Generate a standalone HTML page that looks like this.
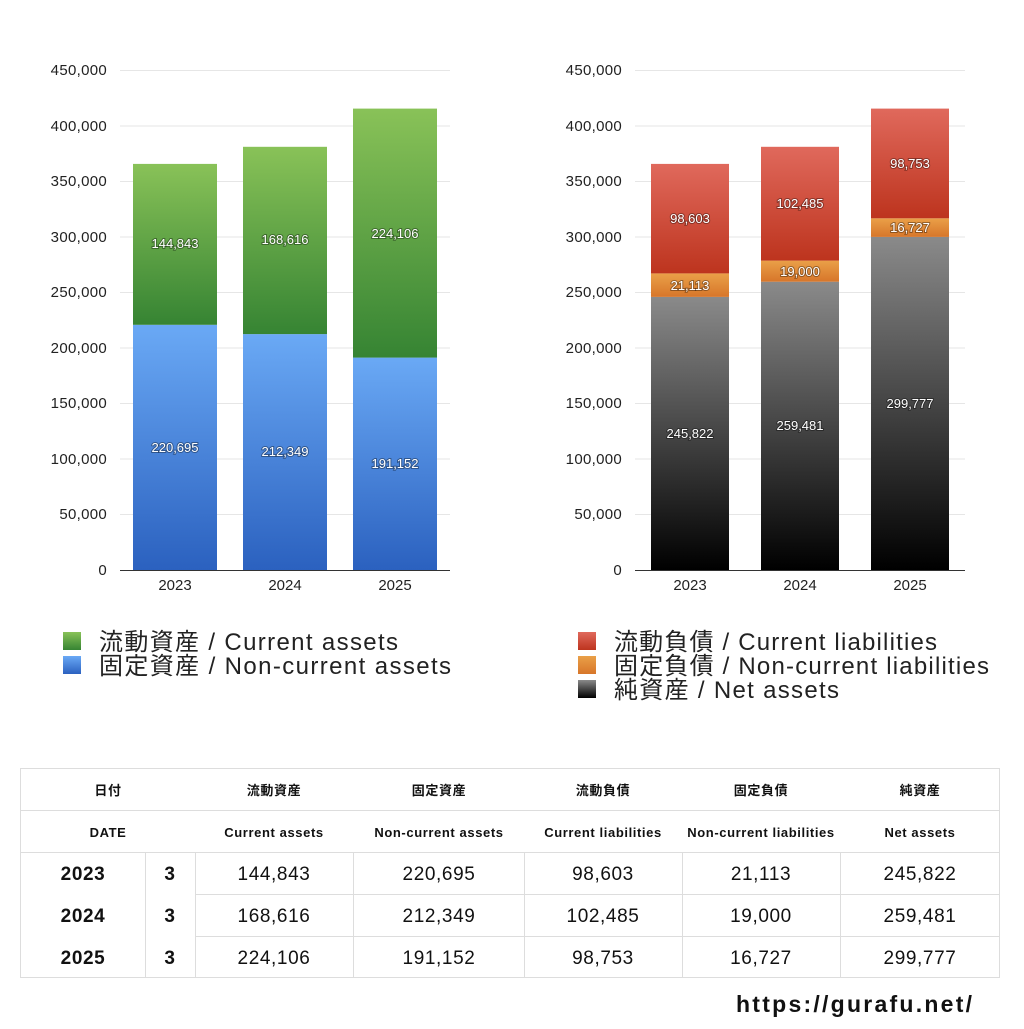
<!DOCTYPE html>
<html><head><meta charset="utf-8"><style>
body{margin:0;background:#fff;font-family:"Liberation Sans","Noto Sans CJK JP",sans-serif;}
</style></head><body>
<svg width="1024" height="1024" xmlns="http://www.w3.org/2000/svg" font-family="Liberation Sans, Noto Sans CJK JP, sans-serif">
<defs>
<linearGradient id="gb" x1="0" y1="0" x2="0" y2="1"><stop offset="0" stop-color="#6aa9f5"/><stop offset="1" stop-color="#2b61bf"/></linearGradient>
<linearGradient id="gg" x1="0" y1="0" x2="0" y2="1"><stop offset="0" stop-color="#89c258"/><stop offset="1" stop-color="#368433"/></linearGradient>
<linearGradient id="gr" x1="0" y1="0" x2="0" y2="1"><stop offset="0" stop-color="#e0695c"/><stop offset="1" stop-color="#bd341e"/></linearGradient>
<linearGradient id="go" x1="0" y1="0" x2="0" y2="1"><stop offset="0" stop-color="#eaa048"/><stop offset="1" stop-color="#d7762a"/></linearGradient>
<linearGradient id="gk" x1="0" y1="0" x2="0" y2="1"><stop offset="0" stop-color="#8a8a8a"/><stop offset="1" stop-color="#000"/></linearGradient>
</defs>
<g stroke="#e6e6e6" stroke-width="1">
<line x1="120" x2="450" y1="70.5" y2="70.5"/><line x1="120" x2="450" y1="126" y2="126"/><line x1="120" x2="450" y1="181.5" y2="181.5"/><line x1="120" x2="450" y1="237" y2="237"/><line x1="120" x2="450" y1="292.5" y2="292.5"/><line x1="120" x2="450" y1="348" y2="348"/><line x1="120" x2="450" y1="403.5" y2="403.5"/><line x1="120" x2="450" y1="459" y2="459"/><line x1="120" x2="450" y1="514.5" y2="514.5"/>
<line x1="635" x2="965" y1="70.5" y2="70.5"/><line x1="635" x2="965" y1="126" y2="126"/><line x1="635" x2="965" y1="181.5" y2="181.5"/><line x1="635" x2="965" y1="237" y2="237"/><line x1="635" x2="965" y1="292.5" y2="292.5"/><line x1="635" x2="965" y1="348" y2="348"/><line x1="635" x2="965" y1="403.5" y2="403.5"/><line x1="635" x2="965" y1="459" y2="459"/><line x1="635" x2="965" y1="514.5" y2="514.5"/>
</g>
<g font-size="15" fill="#222" text-anchor="end" letter-spacing="0.3">
<text x="107" y="75">450,000</text><text x="107" y="131">400,000</text><text x="107" y="186">350,000</text><text x="107" y="242">300,000</text><text x="107" y="297">250,000</text><text x="107" y="353">200,000</text><text x="107" y="408">150,000</text><text x="107" y="464">100,000</text><text x="107" y="519">50,000</text><text x="107" y="575">0</text>
<text x="622" y="75">450,000</text><text x="622" y="131">400,000</text><text x="622" y="186">350,000</text><text x="622" y="242">300,000</text><text x="622" y="297">250,000</text><text x="622" y="353">200,000</text><text x="622" y="408">150,000</text><text x="622" y="464">100,000</text><text x="622" y="519">50,000</text><text x="622" y="575">0</text>
</g>
<rect x="133" y="324.8" width="84" height="245.2" fill="url(#gb)"/><rect x="133" y="163.9" width="84" height="160.9" fill="url(#gg)"/>
<rect x="243" y="334.1" width="84" height="235.9" fill="url(#gb)"/><rect x="243" y="146.8" width="84" height="187.3" fill="url(#gg)"/>
<rect x="353" y="357.6" width="84" height="212.4" fill="url(#gb)"/><rect x="353" y="108.6" width="84" height="249" fill="url(#gg)"/>
<rect x="651" y="296.9" width="78" height="273.1" fill="url(#gk)"/><rect x="651" y="273.4" width="78" height="23.5" fill="url(#go)"/><rect x="651" y="163.9" width="78" height="109.5" fill="url(#gr)"/>
<rect x="761" y="281.7" width="78" height="288.3" fill="url(#gk)"/><rect x="761" y="260.6" width="78" height="21.1" fill="url(#go)"/><rect x="761" y="146.8" width="78" height="113.8" fill="url(#gr)"/>
<rect x="871" y="236.9" width="78" height="333.1" fill="url(#gk)"/><rect x="871" y="218.3" width="78" height="18.6" fill="url(#go)"/><rect x="871" y="108.6" width="78" height="109.7" fill="url(#gr)"/>
<line x1="120" x2="450" y1="570.5" y2="570.5" stroke="#333"/>
<line x1="635" x2="965" y1="570.5" y2="570.5" stroke="#333"/>
<g font-size="13" fill="#fff" text-anchor="middle" style="paint-order:stroke" stroke="rgba(0,0,0,0.35)" stroke-width="2">
<text x="175" y="248">144,843</text><text x="175" y="452">220,695</text>
<text x="285" y="244">168,616</text><text x="285" y="456">212,349</text>
<text x="395" y="238">224,106</text><text x="395" y="468">191,152</text>
<text x="690" y="223">98,603</text><text x="690" y="290">21,113</text><text x="690" y="438">245,822</text>
<text x="800" y="208">102,485</text><text x="800" y="276">19,000</text><text x="800" y="430">259,481</text>
<text x="910" y="168">98,753</text><text x="910" y="232">16,727</text><text x="910" y="408">299,777</text>
</g>
<g font-size="15" fill="#222" text-anchor="middle">
<text x="175" y="590">2023</text><text x="285" y="590">2024</text><text x="395" y="590">2025</text>
<text x="690" y="590">2023</text><text x="800" y="590">2024</text><text x="910" y="590">2025</text>
</g>
<rect x="63" y="632" width="18" height="18" fill="url(#gg)"/><rect x="63" y="656" width="18" height="18" fill="url(#gb)"/>
<g font-size="24" fill="#222"><text x="99" y="650" textLength="299" lengthAdjust="spacing">流動資産 / Current assets</text><text x="99" y="674" textLength="352" lengthAdjust="spacing">固定資産 / Non-current assets</text>
<text x="614" y="650" textLength="323" lengthAdjust="spacing">流動負債 / Current liabilities</text><text x="614" y="674" textLength="375" lengthAdjust="spacing">固定負債 / Non-current liabilities</text><text x="614" y="698" textLength="225" lengthAdjust="spacing">純資産 / Net assets</text></g>
<rect x="578" y="632" width="18" height="18" fill="url(#gr)"/><rect x="578" y="656" width="18" height="18" fill="url(#go)"/><rect x="578" y="680" width="18" height="18" fill="url(#gk)"/>
<g stroke="#ddd" stroke-width="1" fill="none">
<rect x="20.5" y="768.5" width="979" height="209"/>
<line x1="20" x2="1000" y1="810.5" y2="810.5"/><line x1="20" x2="1000" y1="852.5" y2="852.5"/><line x1="195" x2="1000" y1="894.5" y2="894.5"/><line x1="195" x2="1000" y1="936.5" y2="936.5"/>
<line x1="145.5" x2="145.5" y1="852" y2="978"/><line x1="195.5" x2="195.5" y1="852" y2="978"/>
<line x1="353.5" x2="353.5" y1="852" y2="978"/><line x1="524.5" x2="524.5" y1="852" y2="978"/><line x1="682.5" x2="682.5" y1="852" y2="978"/><line x1="840.5" x2="840.5" y1="852" y2="978"/>
</g>
<g font-size="13" font-weight="bold" fill="#111" text-anchor="middle" letter-spacing="0.6">
<text x="108" y="795">日付</text><text x="274" y="795">流動資産</text><text x="439" y="795">固定資産</text><text x="603" y="795">流動負債</text><text x="761" y="795">固定負債</text><text x="920" y="795">純資産</text>
<text x="108" y="837">DATE</text><text x="274" y="837">Current assets</text><text x="439" y="837">Non-current assets</text><text x="603" y="837">Current liabilities</text><text x="761" y="837">Non-current liabilities</text><text x="920" y="837">Net assets</text>
</g>
<g font-size="19" fill="#111" text-anchor="middle" letter-spacing="0.6">
<g font-weight="bold"><text x="83" y="880">2023</text><text x="170" y="880">3</text><text x="83" y="922">2024</text><text x="170" y="922">3</text><text x="83" y="964">2025</text><text x="170" y="964">3</text></g>
<text x="274" y="880">144,843</text><text x="439" y="880">220,695</text><text x="603" y="880">98,603</text><text x="761" y="880">21,113</text><text x="920" y="880">245,822</text>
<text x="274" y="922">168,616</text><text x="439" y="922">212,349</text><text x="603" y="922">102,485</text><text x="761" y="922">19,000</text><text x="920" y="922">259,481</text>
<text x="274" y="964">224,106</text><text x="439" y="964">191,152</text><text x="603" y="964">98,753</text><text x="761" y="964">16,727</text><text x="920" y="964">299,777</text>
</g>
<text x="736" y="1012" font-size="23" font-weight="bold" fill="#111" textLength="236" lengthAdjust="spacing">https://gurafu.net/</text>
</svg>
</body></html>
